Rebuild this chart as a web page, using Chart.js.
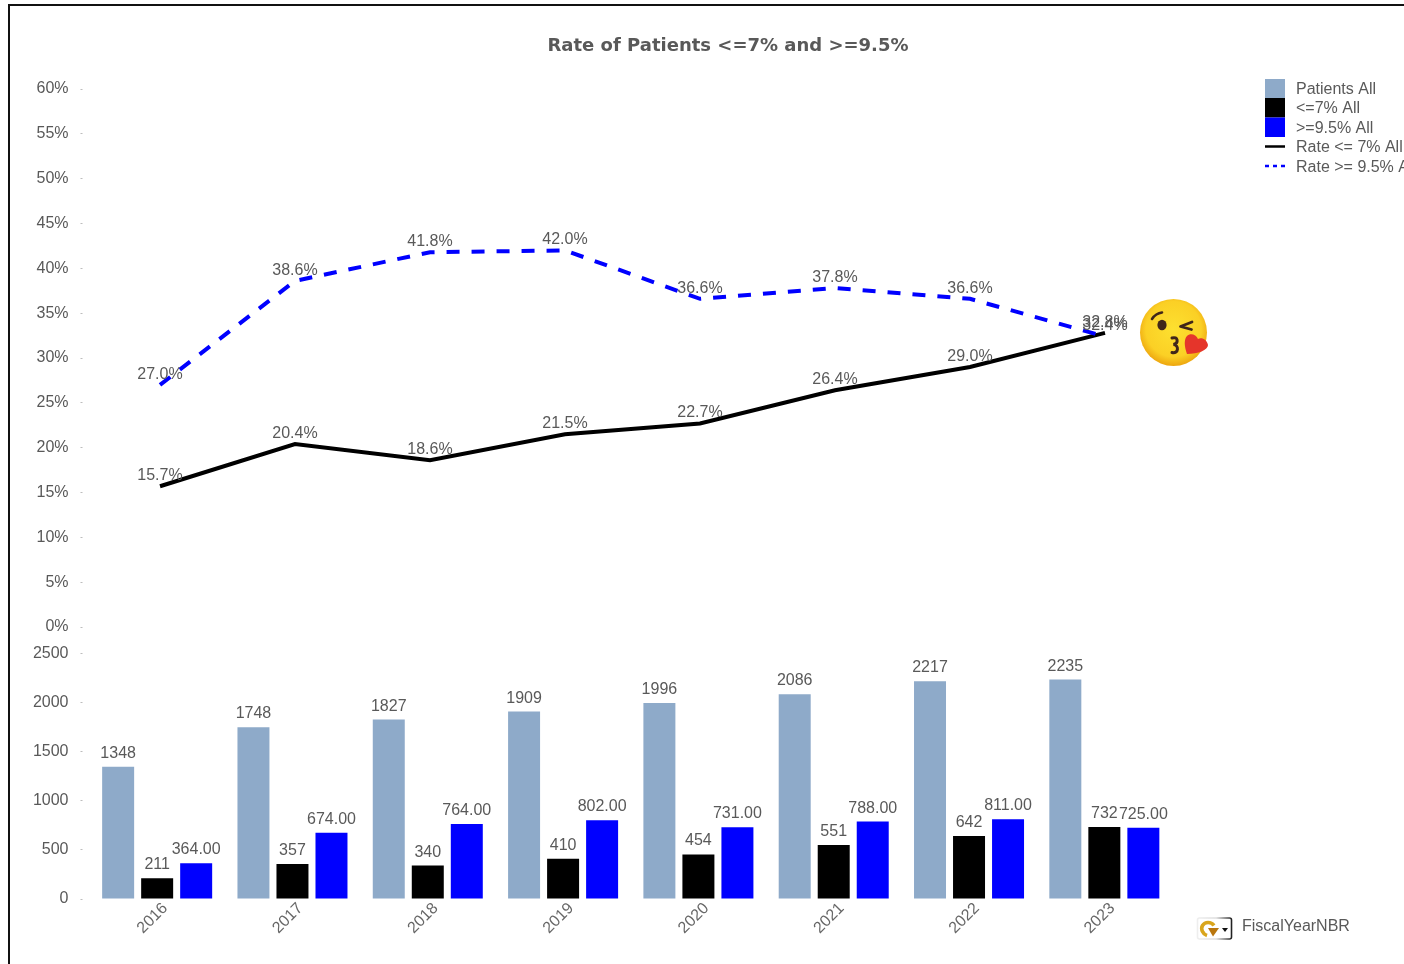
<!DOCTYPE html>
<html>
<head>
<meta charset="utf-8">
<title>Rate of Patients</title>
<script src="https://cdn.jsdelivr.net/npm/chart.js@4/dist/chart.umd.min.js"></script>
<style>
  html, body { margin: 0; padding: 0; background: #fff; overflow: hidden; }
  #stage { position: relative; width: 1404px; height: 964px; overflow: hidden; }
  #stage canvas { position: absolute; left: 0; top: 0; }
  #frame { position: absolute; left: 8px; top: 4px; right: -4px; bottom: -4px; border-left: 2px solid #111; border-top: 2px solid #111; pointer-events: none; }
  .icon { position: absolute; }
</style>
</head>
<body>
<div id="stage">
  <canvas id="counts" width="1404" height="964"></canvas>
  <canvas id="rates" width="1404" height="964"></canvas>
  <div id="frame"></div>

  <svg class="icon" style="left:1138px;top:298px" width="72" height="70" viewBox="0 0 72 70">
    <defs>
      <radialGradient id="face" cx="50%" cy="45%" r="55%">
        <stop offset="0%" stop-color="#fde030"/>
        <stop offset="75%" stop-color="#fbd025"/>
        <stop offset="100%" stop-color="#eda60f"/>
      </radialGradient>
    </defs>
    <circle cx="35.5" cy="34.5" r="33.5" fill="url(#face)"/>
    <path d="M14 21 C16 18 20 15 24 14.5" fill="none" stroke="#40261a" stroke-width="2.6" stroke-linecap="round"/>
    <ellipse cx="24" cy="27" rx="4.6" ry="5.2" fill="#40261a"/>
    <path d="M54 24 L42.5 28.5 L53.5 31.5" fill="none" stroke="#40261a" stroke-width="2.8" stroke-linecap="round" stroke-linejoin="round"/>
    <path d="M34 40 C40 38 41 45 35.5 46.5 C41 47 41 56 34 54.5" fill="none" stroke="#40261a" stroke-width="3" stroke-linecap="round"/>
    <path d="M49 56 C46 48 46 41 49 38 C52 35 58 36 60 41 C64 39 69 42 70 47 C70 52 60 56 49 56 Z" fill="#e5352b"/>
  </svg>

  <svg class="icon" style="left:1196px;top:916px" width="38" height="26" viewBox="0 0 38 26">
    <defs>
      <linearGradient id="chrome" x1="0" x2="1" y1="0" y2="0">
        <stop offset="0%" stop-color="#eeeeee"/>
        <stop offset="55%" stop-color="#dddddd"/>
        <stop offset="100%" stop-color="#222222"/>
      </linearGradient>
    </defs>
    <rect x="1.5" y="2" width="34" height="21" rx="2" fill="#fff" stroke="url(#chrome)" stroke-width="1.6"/>
    <path d="M18 9.5 C15 5.5 9 5.5 6.5 9.5 C4.5 13 6.5 18 11 19.5" fill="none" stroke="#d9a51c" stroke-width="3.6"/>
    <path d="M12 12 L23 12 L17 20.5 Z" fill="#b9760e"/>
    <path d="M26 12 L32 12 L29 16 Z" fill="#111"/>
  </svg>
</div>

<script>
// Fiscal years and patient counts
const years = ["2016", "2017", "2018", "2019", "2020", "2021", "2022", "2023"];
const patientsAll = [1348, 1748, 1827, 1909, 1996, 2086, 2217, 2235];
const lowA1cAll = [211, 357, 340, 410, 454, 551, 642, 732];
const highA1cAll = [364, 674, 764, 802, 731, 788, 811, 725];

// Rates, in percent
const rateLowAll = [15.7, 20.4, 18.6, 21.5, 22.7, 26.4, 29.0, 32.8];
const rateHighAll = [27.0, 38.6, 41.8, 42.0, 36.6, 37.8, 36.6, 32.4];

const chartTitle = "Rate of Patients <=7% and >=9.5%";
const fieldLabel = "FiscalYearNBR";

const TEXT = "#595959";
const FONT = "Liberation Sans, Arial, sans-serif";
const LABEL_FONT = "16px " + FONT;
const STEEL = "#8eaac9";
const BLUE = "#0000ff";
const BLACK = "#000000";

const countSeries = [
  { label: "Patients All", data: patientsAll, backgroundColor: STEEL },
  { label: "<=7% All", data: lowA1cAll, backgroundColor: BLACK },
  { label: ">=9.5% All", data: highA1cAll, decimals: 2, backgroundColor: BLUE }
];
const rateSeries = [
  { label: "Rate <= 7% All", data: rateLowAll, borderColor: BLACK, borderWidth: 4, tension: 0, pointRadius: 0, order: 2 },
  { label: "Rate >= 9.5% All", data: rateHighAll, borderColor: BLUE, borderWidth: 4, borderDash: [13, 12], tension: 0, pointRadius: 0, order: 1 }
];

function drawText(ctx, str, x, y, align, font) {
  ctx.font = font;
  ctx.fillStyle = TEXT;
  ctx.textAlign = align;
  ctx.textBaseline = "alphabetic";
  ctx.fillText(str, x, y);
}

// Labels above the bars and the caption beside the year axis
const countLabels = {
  id: "countLabels",
  afterDatasetsDraw(chart) {
    const ctx = chart.ctx;
    ctx.save();
    chart.data.datasets.forEach((ds, i) => {
      chart.getDatasetMeta(i).data.forEach((el, j) => {
        const str = ds.decimals ? ds.data[j].toFixed(ds.decimals) : String(ds.data[j]);
        drawText(ctx, str, el.x, el.y - 9, "center", LABEL_FONT);
      });
    });
    drawText(ctx, fieldLabel, 1242, 931, "left", LABEL_FONT);
    ctx.restore();
  }
};

// Labels at the line points, plus the title and the combined legend
const rateLabels = {
  id: "rateLabels",
  afterDatasetsDraw(chart) {
    const ctx = chart.ctx;
    ctx.save();
    chart.data.datasets.forEach((ds, i) => {
      chart.getDatasetMeta(i).data.forEach((el, j) => {
        drawText(ctx, ds.data[j].toFixed(1) + "%", el.x, el.y - 6, "center", LABEL_FONT);
      });
    });
    drawText(ctx, chartTitle, 728, 51, "center", "bold 18px DejaVu Sans, sans-serif");

    const lx = 1265, lw = 20, tx = 1296;
    const rowY = [79, 98, 117.5, 137, 156.5];
    countSeries.concat(rateSeries).forEach((ds, i) => {
      const y = rowY[i];
      if (ds.borderColor) {
        ctx.beginPath();
        ctx.strokeStyle = ds.borderColor;
        ctx.lineWidth = 2.5;
        ctx.setLineDash(ds.borderDash ? [4, 4] : []);
        ctx.moveTo(lx, y + 9.5);
        ctx.lineTo(lx + lw, y + 9.5);
        ctx.stroke();
        ctx.setLineDash([]);
      } else {
        ctx.fillStyle = ds.backgroundColor;
        ctx.fillRect(lx, y, lw, 19.5);
      }
      drawText(ctx, ds.label, tx, y + 15, "left", LABEL_FONT);
    });
    ctx.restore();
  }
};

// Bars: lower panel
new Chart(document.getElementById("counts"), {
  type: "bar",
  data: { labels: years, datasets: countSeries },
  options: {
    responsive: false,
    animation: false,
    layout: { padding: { left: 0, top: 653.5, right: 232, bottom: 0 } },
    datasets: { bar: { categoryPercentage: 0.865, barPercentage: 0.82 } },
    plugins: { legend: { display: false }, title: { display: false }, tooltip: { enabled: false } },
    scales: {
      x: {
        type: "category",
        offset: true,
        border: { display: false },
        grid: { display: false },
        afterFit(scale) { scale.height = 65; },
        ticks: { color: "#666", font: { family: FONT, size: 16 }, minRotation: 45, maxRotation: 45, autoSkip: false, padding: -8, labelOffset: 8 }
      },
      y: {
        min: 0,
        max: 2500,
        border: { display: false },
        grid: { drawOnChartArea: false, tickLength: 9, tickBorderDash: [2, 8], tickColor: "#bdbdbd", tickWidth: 1 },
        afterFit(scale) { scale.width = 89.5; },
        ticks: { color: TEXT, font: { family: FONT, size: 16 }, padding: 12, stepSize: 500, callback: v => String(v) }
      }
    }
  },
  plugins: [countLabels]
});

// Lines: upper panel, sharing the year categories
new Chart(document.getElementById("rates"), {
  type: "line",
  data: { labels: years, datasets: rateSeries },
  options: {
    responsive: false,
    animation: false,
    layout: { padding: { left: 0, top: 89, right: 231.5, bottom: 337 } },
    plugins: { legend: { display: false }, title: { display: false }, tooltip: { enabled: false } },
    scales: {
      x: { type: "category", offset: true, display: false },
      y: {
        min: 0,
        max: 60,
        border: { display: false },
        grid: { drawOnChartArea: false, tickLength: 12, tickBorderDash: [2, 11], tickColor: "#bdbdbd", tickWidth: 1 },
        afterFit(scale) { scale.width = 92.5; },
        ticks: { color: TEXT, font: { family: FONT, size: 16 }, padding: 12, stepSize: 5, callback: v => v + "%" }
      }
    }
  },
  plugins: [rateLabels]
});
</script>
</body>
</html>
